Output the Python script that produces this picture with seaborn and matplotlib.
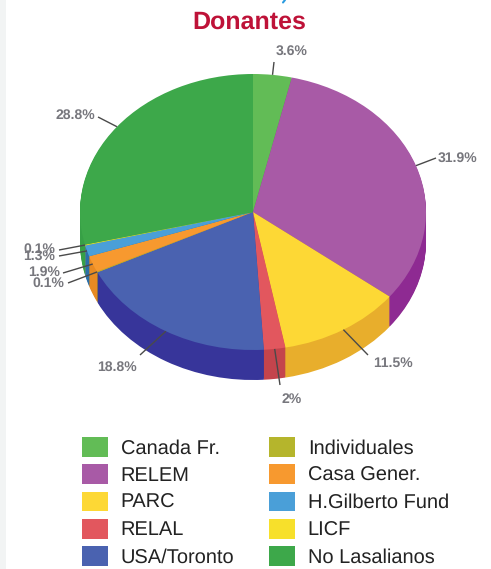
import numpy as np
import matplotlib
matplotlib.use("Agg")
import matplotlib.pyplot as plt
from matplotlib.patches import Patch, Rectangle
import seaborn as sns

labels = ["Canada Fr.", "RELEM", "PARC", "RELAL", "USA/Toronto",
          "Individuales", "Casa Gener.", "H.Gilberto Fund", "LICF", "No Lasalianos"]
values = [3.6, 31.9, 11.5, 2.0, 18.8, 0.1, 1.9, 1.3, 0.1, 28.8]
value_text = ["3.6%", "31.9%", "11.5%", "2%", "18.8%", "0.1%", "1.9%", "1.3%", "0.1%", "28.8%"]
top_hex = ["#62BC56", "#A85AA6", "#FDD835", "#E2575E", "#4A62B0",
           "#B5B52C", "#F7992F", "#4A9FD8", "#F7E02B", "#3DA84A"]
wall_hex = ["#4A9A42", "#8E2A92", "#E8AE2C", "#C4444C", "#37359A",
            "#8E8E20", "#E88A22", "#2B6FA8", "#D8C020", "#37A046"]

W, H = 491, 569
sns.set_theme(style="white")
plt.rcParams["font.family"] = ["Liberation Sans", "DejaVu Sans"]
plt.rcParams["text.hinting"] = "none"
plt.rcParams["text.hinting_factor"] = 1
top_colors = sns.color_palette(top_hex)
wall_colors = sns.color_palette(wall_hex)

fig = plt.figure(figsize=(W / 100, H / 100), dpi=100, facecolor="white")

# pixel overlay for page furniture, labels and leaders
ov = fig.add_axes([0, 0, 1, 1], zorder=3)
ov.set_xlim(0, W)
ov.set_ylim(H, 0)
ov.axis("off")
ov.patch.set_alpha(0)

# pie box: top face ellipse
cx, cy, rx, ry, depth = 253, 212, 173, 138, 30
ax = fig.add_axes([(cx - rx) / W, 1 - (cy + ry) / H, 2 * rx / W, 2 * ry / H], zorder=2)
for k in range(depth, 0, -1):
    ax.pie(values, colors=wall_colors, startangle=90, counterclock=False,
           center=(0, -k / ry), radius=1,
           wedgeprops={"linewidth": 0, "clip_on": False})
ax.pie(values, colors=top_colors, startangle=90, counterclock=False,
       wedgeprops={"linewidth": 0, "clip_on": False})
ax.set_aspect("auto")
ax.set_xlim(-1, 1)
ax.set_ylim(-1, 1)

# leader ends and label centres, per slice, in figure pixels
line_end = [(274, 62), (436, 158), (368, 355), (280, 385), (140, 355),
            (68, 283), (63, 273), (59, 256), (59, 250), (98, 117)]
label_pos = [(292, 51), (458, 158), (393, 363), (292, 399), (117, 367),
             (48, 283), (44, 272), (39, 256), (39, 249), (75, 115)]
total = sum(values)
mids = (np.cumsum(values) - np.array(values) / 2) / total * 2 * np.pi
for m, end, pos, txt in zip(mids, line_end, label_pos, value_text):
    x0 = cx + rx * np.sin(m)
    y0 = cy - ry * np.cos(m)
    ov.plot([x0, end[0]], [y0, end[1]], color="#4a4a4a", lw=1.0, solid_capstyle="butt")
    ov.text(pos[0], pos[1], txt, ha="center", va="center", color="#77777d",
            fontsize=10, fontweight="bold")

ov.text(249, 22, "Donantes", ha="center", va="center", color="#BE1238",
        fontsize=18, fontweight="bold")

# scanned page edge and clipped glyph above the title
ov.add_patch(Rectangle((0, 0), 6, H, facecolor="#F2F4F4", edgecolor="none"))
ov.plot([285, 283], [0, 2.5], color="#2A9BE0", lw=1.5)

handles = [Patch(facecolor=c, edgecolor="none", label=l) for c, l in zip(top_hex, labels)]
fig.legend(handles=handles, ncol=2, loc="upper left",
           bbox_to_anchor=(82 / W, 1 - 437 / H), bbox_transform=fig.transFigure,
           frameon=False, fontsize=14.2, borderpad=0, borderaxespad=0,
           handlelength=1.32, handleheight=1.17, handletextpad=0.65,
           labelspacing=0.33, columnspacing=1.75, labelcolor="#222222")

fig.savefig("out.png", dpi=100, facecolor="white")
